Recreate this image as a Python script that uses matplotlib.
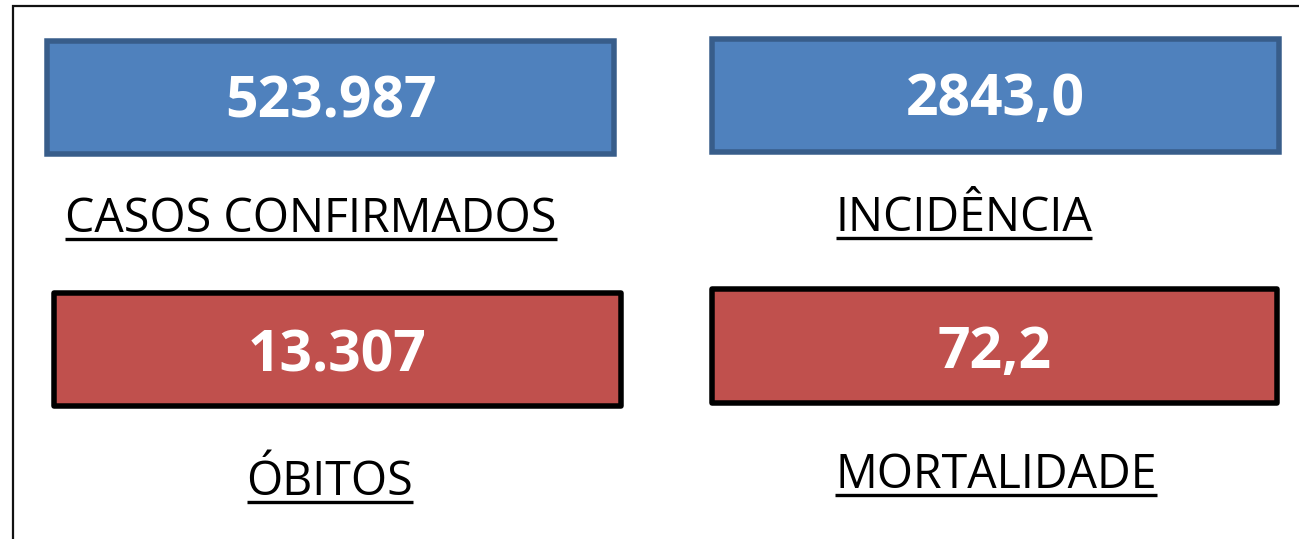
import matplotlib.pyplot as plt
from matplotlib.patches import Rectangle

# indicator values and captions
values = ["523.987", "2843,0", "13.307", "72,2"]
labels = ["CASOS CONFIRMADOS", "INCIDÊNCIA", "ÓBITOS", "MORTALIDADE"]

# box layout in pixels: x0, y0, x1, y1 (outer edge)
boxes = [(44, 38, 617, 157), (709, 36, 1282, 155),
         (51, 290, 624, 409), (709, 286, 1280, 406)]
fills = ["#4F81BD", "#4F81BD", "#C0504D", "#C0504D"]
edges = ["#385D8A", "#385D8A", "#000000", "#000000"]
joins = ["miter", "miter", "round", "round"]
value_base = [117, 115, 372, 368]
label_pos = [(311, 232), (964, 231), (330, 495), (996, 488)]

W, H = 1299, 539
fig = plt.figure(figsize=(W / 100, H / 100), dpi=100)
ax = fig.add_axes([0, 0, 1, 1])
ax.set_xlim(0, W)
ax.set_ylim(H, 0)
ax.axis("off")

# frame (only left and top visible in the crop)
ax.plot([13.5, 13.5, W], [H, 6, 6], color="#111111", lw=1.6, solid_joinstyle="miter")

lw = 5.5 * 72 / 100
texts = []
for i in range(4):
    x0, y0, x1, y1 = boxes[i]
    ax.add_patch(Rectangle((x0 + 2.75, y0 + 2.75), x1 - x0 - 5.5, y1 - y0 - 5.5,
                           facecolor=fills[i], edgecolor=edges[i], lw=lw,
                           joinstyle=joins[i]))
    ax.text((x0 + x1) / 2, value_base[i], values[i], color="white",
            fontsize=41, fontweight="bold", family="Open Sans",
            ha="center", va="baseline")
    lx, ly = label_pos[i]
    t = ax.text(lx, ly, labels[i], color="black", fontsize=33.5,
                family="Open Sans", ha="center", va="baseline")
    texts.append(t)

# underline each caption using its rendered extent
fig.canvas.draw()
r = fig.canvas.get_renderer()
inv = ax.transData.inverted()
for t, (lx, ly) in zip(texts, label_pos):
    bb = t.get_window_extent(r)
    (xa, _), (xb, _) = inv.transform([[bb.x0, 0], [bb.x1, 0]])
    ax.plot([xa, xb], [ly + 6.5, ly + 6.5], color="black", lw=2.4,
            solid_capstyle="butt")

fig.savefig("out.png", dpi=100, facecolor="white")
